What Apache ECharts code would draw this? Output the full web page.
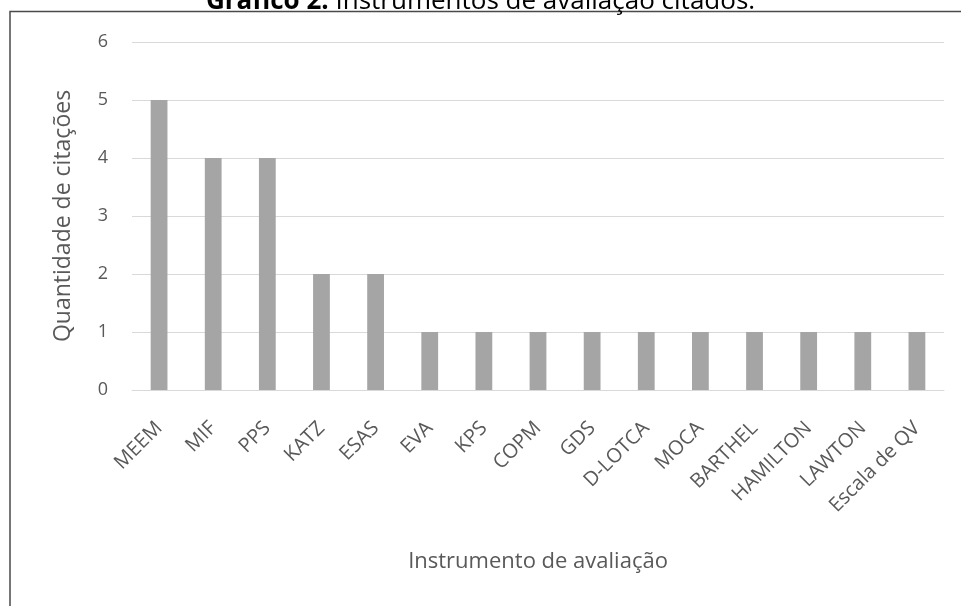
<!DOCTYPE html>
<html>
<head>
<meta charset="utf-8">
<script src="https://cdn.jsdelivr.net/npm/echarts@6/dist/echarts.min.js"></script>
<style>
  html, body { margin: 0; padding: 0; background: #fff; }
  #chart { width: 961px; height: 606px; }
</style>
</head>
<body>
<div id="chart"></div>
<script>
// Instrumentos de avaliação e número de citações
const categories = ['MEEM', 'MIF', 'PPS', 'KATZ', 'ESAS', 'EVA', 'KPS', 'COPM', 'GDS',
  'D-LOTCA', 'MOCA', 'BARTHEL', 'HAMILTON', 'LAWTON', 'Escala de QV'];
const citations = [5, 4, 4, 2, 2, 1, 1, 1, 1, 1, 1, 1, 1, 1, 1];
const yTicks = [0, 1, 2, 3, 4, 5, 6];

const FONT = 'Open Sans';
const TEXT = '#595959';

const chart = echarts.init(document.getElementById('chart'), null, { renderer: 'canvas' });
chart.setOption({
  backgroundColor: '#ffffff',
  animation: false,
  textStyle: { fontFamily: FONT },
  graphic: [
    {
      type: 'polyline',
      shape: { points: [[10, 606], [10, 11.5], [961, 11.5]] },
      style: { stroke: '#4a4a4a', lineWidth: 1.5, fill: null }
    },
    {
      type: 'text',
      left: 'center',
      top: -11,
      style: {
        text: '{b|Gráfico 2.} Instrumentos de avaliação citados.',
        rich: {
          b: { fontWeight: 'bold', fontSize: 26, fontFamily: FONT, fill: '#000' }
        },
        fontSize: 26,
        fontFamily: FONT,
        fill: '#000'
      }
    }
  ],
  grid: { left: 132, right: 17, top: 42, bottom: 216 },
  xAxis: {
    type: 'category',
    data: categories,
    name: 'Instrumento de avaliação',
    nameLocation: 'middle',
    nameGap: 161,
    nameTextStyle: { color: TEXT, fontSize: 22, fontFamily: FONT },
    axisLine: { lineStyle: { color: '#d9d9d9', width: 1 } },
    axisTick: { show: false },
    axisLabel: { rotate: 45, color: TEXT, fontSize: 20, fontFamily: FONT, margin: 35, interval: 0 }
  },
  yAxis: {
    type: 'value',
    min: yTicks[0],
    max: yTicks[yTicks.length - 1],
    interval: 1,
    name: 'Quantidade de citações',
    nameLocation: 'middle',
    nameGap: 57,
    nameTextStyle: { color: TEXT, fontSize: 23, fontFamily: FONT },
    axisLine: { show: false },
    axisTick: { show: false },
    axisLabel: { color: TEXT, fontSize: 18, fontFamily: FONT, margin: 24 },
    splitLine: { lineStyle: { color: '#d9d9d9', width: 1 } }
  },
  series: [{
    type: 'bar',
    data: citations,
    barWidth: '31%',
    itemStyle: { color: '#a5a5a5' }
  }]
});
</script>
</body>
</html>
